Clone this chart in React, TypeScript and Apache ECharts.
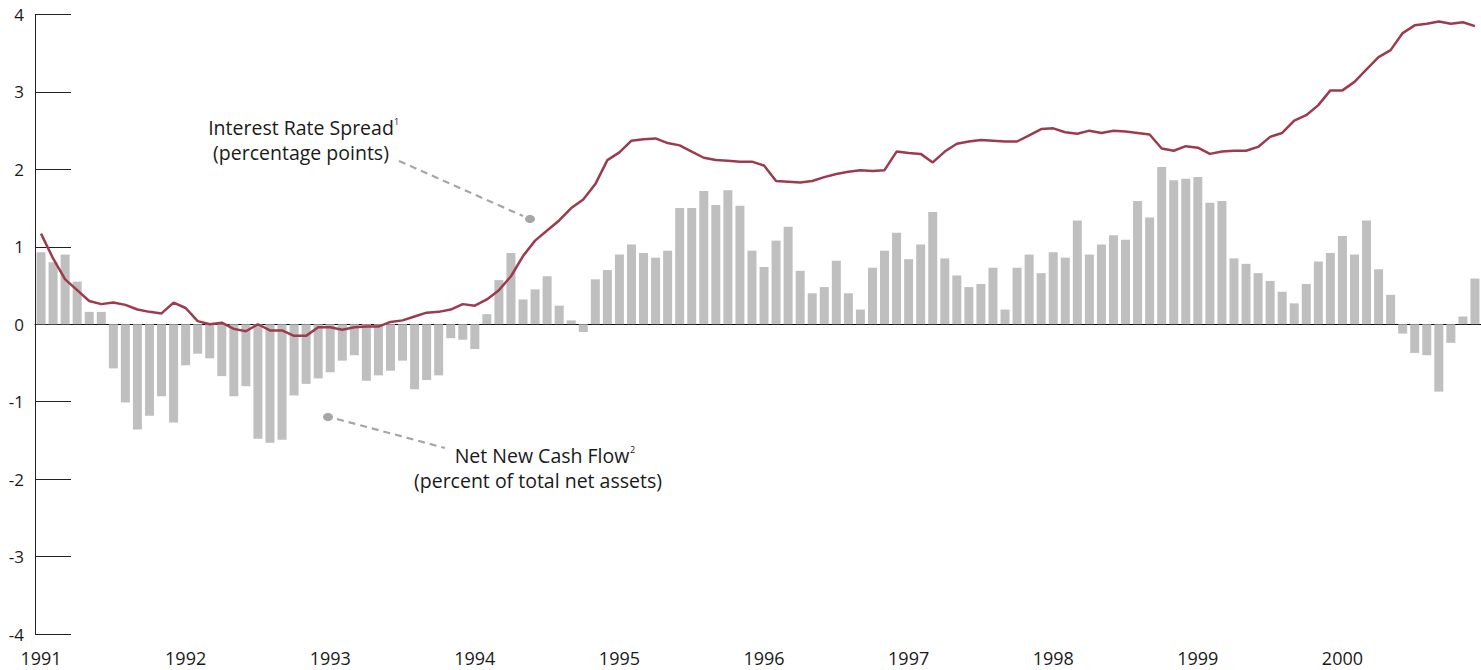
import React, { useEffect, useRef } from "react";
import * as echarts from "echarts";

const years = ["1991", "1992", "1993", "1994", "1995", "1996", "1997", "1998", "1999", "2000"];
const months = ["01", "02", "03", "04", "05", "06", "07", "08", "09", "10", "11", "12"];

const netNewCashFlow = [
  0.93, 0.80, 0.90, 0.55, 0.16, 0.16, -0.57, -1.01, -1.36, -1.18, -0.93, -1.27,
  -0.53, -0.38, -0.44, -0.67, -0.93, -0.80, -1.48, -1.53, -1.49, -0.92, -0.77, -0.70,
  -0.62, -0.47, -0.40, -0.73, -0.66, -0.60, -0.47, -0.84, -0.72, -0.66, -0.18, -0.20,
  -0.32, 0.13, 0.57, 0.92, 0.32, 0.45, 0.62, 0.24, 0.05, -0.10, 0.58, 0.70,
  0.90, 1.03, 0.92, 0.86, 0.95, 1.50, 1.50, 1.72, 1.54, 1.73, 1.53, 0.95,
  0.74, 1.08, 1.26, 0.69, 0.40, 0.48, 0.82, 0.40, 0.19, 0.73, 0.95, 1.18,
  0.84, 1.03, 1.45, 0.85, 0.63, 0.48, 0.52, 0.73, 0.19, 0.73, 0.90, 0.66,
  0.93, 0.86, 1.34, 0.90, 1.03, 1.15, 1.09, 1.59, 1.38, 2.03, 1.86, 1.88,
  1.90, 1.57, 1.59, 0.85, 0.78, 0.66, 0.56, 0.42, 0.27, 0.52, 0.81, 0.92,
  1.14, 0.90, 1.34, 0.71, 0.38, -0.12, -0.37, -0.40, -0.87, -0.24, 0.10, 0.59,
];

const interestRateSpread = [
  1.17, 0.85, 0.58, 0.44, 0.30, 0.26, 0.28, 0.25, 0.19, 0.16, 0.14, 0.28,
  0.21, 0.04, 0.00, 0.02, -0.06, -0.09, 0.00, -0.08, -0.08, -0.15, -0.15, -0.04,
  -0.04, -0.07, -0.04, -0.03, -0.03, 0.03, 0.05, 0.10, 0.15, 0.16, 0.19, 0.26,
  0.24, 0.32, 0.44, 0.62, 0.88, 1.08, 1.21, 1.34, 1.50, 1.61, 1.81, 2.12,
  2.22, 2.37, 2.39, 2.40, 2.34, 2.31, 2.23, 2.15, 2.12, 2.11, 2.10, 2.10,
  2.05, 1.85, 1.84, 1.83, 1.85, 1.90, 1.94, 1.97, 1.99, 1.98, 1.99, 2.23,
  2.21, 2.20, 2.09, 2.23, 2.33, 2.36, 2.38, 2.37, 2.36, 2.36, 2.44, 2.52,
  2.53, 2.48, 2.46, 2.50, 2.47, 2.50, 2.49, 2.47, 2.45, 2.27, 2.24, 2.30,
  2.28, 2.20, 2.23, 2.24, 2.24, 2.29, 2.42, 2.47, 2.63, 2.70, 2.83, 3.02,
  3.02, 3.13, 3.29, 3.45, 3.54, 3.76, 3.86, 3.88, 3.91, 3.88, 3.90, 3.85,
];

const yTicks = [-4, -3, -2, -1, 0, 1, 2, 3, 4];

const categories: string[] = [];
years.forEach((y) => months.forEach((m) => categories.push(`${y}-${m}`)));

const FONT = "'Open Sans', 'Noto Sans', sans-serif";
const TEXT = "#1a1a1a";
const ANN = "#a6a6a6";
const ANN_FONT = `19.5px ${FONT}`;
const SUP_FONT = `9px ${FONT}`;

export default function App() {
  const ref = useRef<HTMLDivElement>(null);
  useEffect(() => {
    if (!ref.current) return;
    const chart = echarts.init(ref.current, undefined, { renderer: "svg" });
    chart.setOption({
      animation: false,
      backgroundColor: "#ffffff",
      textStyle: { fontFamily: FONT },
      grid: { left: 35, right: 0, top: 14.5, bottom: 36, containLabel: false },
      xAxis: [
        {
          type: "category",
          data: categories,
          position: "bottom",
          axisLine: { show: false, onZero: false },
          axisTick: { show: false },
          splitLine: { show: false },
          axisLabel: {
            interval: 11,
            margin: 15,
            color: TEXT,
            fontSize: 18,
            fontFamily: FONT,
            alignMinLabel: "center",
            alignMaxLabel: "center",
            formatter: (v: string) => v.slice(0, 4),
          },
        },
        {
          type: "category",
          data: categories,
          position: "bottom",
          axisLine: { show: true, onZero: true, lineStyle: { color: "#000", width: 1 } },
          axisTick: { show: false },
          axisLabel: { show: false },
          splitLine: { show: false },
        },
      ],
      yAxis: {
        type: "value",
        min: yTicks[0],
        max: yTicks[yTicks.length - 1],
        interval: 1,
        axisLine: { show: true, lineStyle: { color: "#222", width: 1 } },
        axisTick: { show: true, inside: true, length: 36, lineStyle: { color: "#222", width: 1 } },
        splitLine: { show: false },
        axisLabel: { color: TEXT, fontSize: 17, margin: 11, fontFamily: FONT },
      },
      series: [
        {
          name: "Net New Cash Flow",
          type: "bar",
          xAxisIndex: 0,
          data: netNewCashFlow,
          barWidth: 9,
          itemStyle: { color: "#bfbfbf" },
          z: 2,
        },
        {
          name: "Interest Rate Spread",
          type: "line",
          xAxisIndex: 0,
          data: interestRateSpread,
          symbol: "none",
          lineStyle: { color: "#9e3a4e", width: 2.5 },
          z: 3,
        },
      ],
      graphic: [
        { type: "text", x: 301, y: 127, style: { text: "Interest Rate Spread", textAlign: "center", textVerticalAlign: "middle", fill: TEXT, font: ANN_FONT } },
        { type: "text", x: 394, y: 121, style: { text: "1", textAlign: "left", textVerticalAlign: "middle", fill: TEXT, font: SUP_FONT } },
        { type: "text", x: 301, y: 152, style: { text: "(percentage points)", textAlign: "center", textVerticalAlign: "middle", fill: TEXT, font: ANN_FONT } },
        { type: "line", shape: { x1: 399, y1: 161, x2: 523, y2: 216 }, style: { stroke: ANN, lineWidth: 2.2, lineDash: [7, 5] } },
        { type: "ellipse", shape: { cx: 530, cy: 219, rx: 5, ry: 4 }, style: { fill: ANN } },
        { type: "text", x: 542, y: 455, style: { text: "Net New Cash Flow", textAlign: "center", textVerticalAlign: "middle", fill: TEXT, font: ANN_FONT } },
        { type: "text", x: 630, y: 449, style: { text: "2", textAlign: "left", textVerticalAlign: "middle", fill: TEXT, font: SUP_FONT } },
        { type: "text", x: 538, y: 480, style: { text: "(percent of total net assets)", textAlign: "center", textVerticalAlign: "middle", fill: TEXT, font: ANN_FONT } },
        { type: "line", shape: { x1: 337, y1: 419, x2: 445, y2: 448 }, style: { stroke: ANN, lineWidth: 2.2, lineDash: [7, 5] } },
        { type: "ellipse", shape: { cx: 328, cy: 417, rx: 5, ry: 4 }, style: { fill: ANN } },
      ],
    });
    return () => chart.dispose();
  }, []);
  return (
    <div
      ref={ref}
      style={{ position: "fixed", left: 0, top: 0, width: 1481, height: 670, background: "#fff" }}
    />
  );
}
